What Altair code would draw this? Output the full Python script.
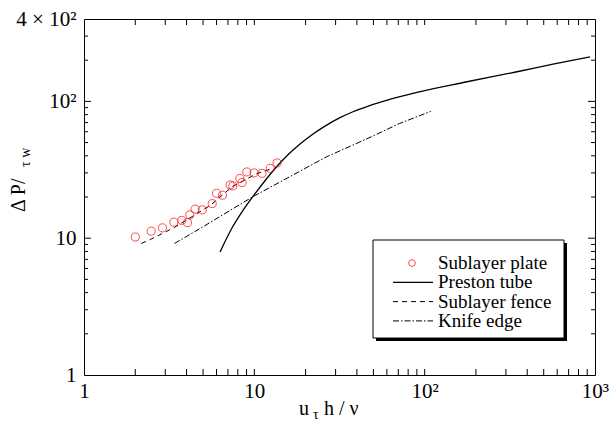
import altair as alt
import pandas as pd

# Sublayer plate measurements
plate_x = [2.0, 2.48, 2.89, 3.37, 3.75, 4.05, 4.18, 4.49, 4.95, 5.66, 6.0,
           6.5, 7.21, 7.48, 8.22, 8.47, 9.03, 9.96, 11.1, 12.4, 13.6]
plate_y = [10.2, 11.25, 11.9, 13.1, 13.5, 13.0, 14.8, 16.3, 16.1, 17.9, 21.3,
           20.6, 24.5, 24.1, 27.3, 25.5, 30.5, 30.0, 29.8, 32.4, 35.5]

# Preston tube calibration
preston_x = [6.29, 7.39, 8.58, 9.82, 11.71, 13.59, 15.55, 18.54, 22.11, 26.0,
             31.84, 37.96, 45.86, 56.93, 71.66, 90.16, 177.3, 348.4, 566.9, 934.8]
preston_y = [7.93, 11.87, 15.97, 20.21, 26.86, 33.54, 40.03, 48.74, 57.77, 65.98,
             76.01, 83.95, 91.62, 99.8, 108.2, 116.5, 139.1, 164.6, 187.1, 211.8]

# Sublayer fence calibration
fence_x = [2.17, 2.46, 3.4, 5.53, 7.38, 10.3, 12.5]
fence_y = [9.15, 9.8, 12.0, 17.4, 23.7, 29.6, 32.0]

# Knife edge calibration
knife_x = [3.4, 4.82, 9.87, 26.5, 48.5, 70.9, 108.6]
knife_y = [9.15, 11.8, 20.2, 39.3, 55.0, 68.8, 84.5]

legend_labels = ["Sublayer plate", "Preston tube", "Sublayer fence", "Knife edge"]

x_major = [1, 10, 100, 1000]
x_label_text = ["1", "10", "10²", "10³"]
y_major = [1, 10, 100, 400]
y_label_text = ["1", "10", "10²", "4 × 10²"]

# tick positions (inward ticks on all four sides)
x_tick_vals = [m * d for d in (1, 10, 100) for m in range(1, 10)][1:]
y_tick_major = [10, 100]
y_tick_minor = [m * d for d in (1, 10) for m in range(2, 10)] + [200, 300]

W, H = 511, 356
FONT = "Liberation Serif, Times New Roman, serif"


def label_expr(vals, texts):
    expr = "''"
    for v, t in reversed(list(zip(vals, texts))):
        expr = f"datum.value == {v} ? '{t}' : ({expr})"
    return expr


xs = alt.Scale(type="log", domain=[1, 1000], nice=False)
ys = alt.Scale(type="log", domain=[1, 400], nice=False)

x_axis = alt.Axis(orient="bottom", values=x_major, labelExpr=label_expr(x_major, x_label_text),
                  ticks=False, domain=False, grid=False, title=None, labelFont=FONT,
                  labelFontSize=21, labelColor="black", labelPadding=5,
                  labelFlush=False, labelOverlap=False)
y_axis = alt.Axis(orient="left", values=y_major, labelExpr=label_expr(y_major, y_label_text),
                  ticks=False, domain=False, grid=False, title=None, labelFont=FONT,
                  labelFontSize=21, labelColor="black", labelPadding=8,
                  labelFlush=False, labelOverlap=False)


def X(field):
    return alt.X(field, scale=xs, axis=x_axis)


def Y(field):
    return alt.Y(field, scale=ys, axis=y_axis)


plate = pd.DataFrame({"x": plate_x, "y": plate_y})
preston = pd.DataFrame({"x": preston_x, "y": preston_y})
fence = pd.DataFrame({"x": fence_x, "y": fence_y})
knife = pd.DataFrame({"x": knife_x, "y": knife_y})

preston_layer = alt.Chart(preston).mark_line(color="black", strokeWidth=1.3,
                                             interpolate="monotone").encode(
    x=X("x:Q"), y=Y("y:Q"))
fence_layer = alt.Chart(fence).mark_line(color="black", strokeWidth=1,
                                         strokeDash=[5, 4]).encode(x=X("x:Q"), y=Y("y:Q"))
knife_layer = alt.Chart(knife).mark_line(color="black", strokeWidth=1,
                                         strokeDash=[6, 2, 1.5, 2]).encode(x=X("x:Q"), y=Y("y:Q"))
plate_layer = alt.Chart(plate).mark_point(shape="circle", filled=False, color="#ff0000",
                                          size=65, strokeWidth=1).encode(x=X("x:Q"), y=Y("y:Q"))

# tick marks placed through the scales
xt = pd.DataFrame({"v": x_tick_vals})
ytM = pd.DataFrame({"v": y_tick_major})
ytm = pd.DataFrame({"v": y_tick_minor})
XT, YTM, YTm = 6, 7, 4
tick_layers = [
    alt.Chart(xt).mark_rule(color="black", strokeWidth=1).encode(
        x=X("v:Q"), y=alt.value(H), y2=alt.value(H - XT)),
    alt.Chart(xt).mark_rule(color="black", strokeWidth=1).encode(
        x=X("v:Q"), y=alt.value(0), y2=alt.value(XT)),
]
for df, ln in ((ytM, YTM), (ytm, YTm)):
    tick_layers.append(alt.Chart(df).mark_rule(color="black", strokeWidth=1).encode(
        y=Y("v:Q"), x=alt.value(0), x2=alt.value(ln)))
    tick_layers.append(alt.Chart(df).mark_rule(color="black", strokeWidth=1).encode(
        y=Y("v:Q"), x=alt.value(W), x2=alt.value(W - ln)))

# legend box with drop shadow
one = pd.DataFrame({"k": [0]})
LX0, LX1, LY0, LY1 = 289, 480, 221, 319
shadow = alt.Chart(one).mark_rect(color="black").encode(
    x=alt.value(LX0 + 3), x2=alt.value(LX1 + 3), y=alt.value(LY0 + 3), y2=alt.value(LY1 + 3))
box = alt.Chart(one).mark_rect(fill="white", stroke="black", strokeWidth=1).encode(
    x=alt.value(LX0), x2=alt.value(LX1), y=alt.value(LY0), y2=alt.value(LY1))

row_y = [244 + i * 19.3 for i in range(len(legend_labels))]
legend_text = [
    alt.Chart(one).mark_text(text=lab, font=FONT, fontSize=19, align="left",
                             baseline="middle", color="black").encode(
        x=alt.value(354), y=alt.value(ry))
    for lab, ry in zip(legend_labels, row_y)
]
legend_sym = alt.Chart(one).mark_point(shape="circle", filled=False, color="#ff0000",
                                       size=45, strokeWidth=1).encode(
    x=alt.value(328), y=alt.value(row_y[0]))
legend_lines = [
    alt.Chart(one).mark_rule(color="black", strokeWidth=sw, **({"strokeDash": d} if d else {})).encode(
        x=alt.value(309), x2=alt.value(349), y=alt.value(ry))
    for ry, d, sw in zip(row_y[1:], [None, [5, 4], [6, 2, 1.5, 2]], [1.3, 1, 1])
]

# axis titles with subscripts
titles = [
    alt.Chart(one).mark_text(text="u", font=FONT, fontSize=20, align="right",
                             baseline="alphabetic", color="black").encode(
        x=alt.value(225), y=alt.value(396)),
    alt.Chart(one).mark_text(text="τ", font=FONT, fontSize=14, align="left",
                             baseline="alphabetic", color="black").encode(
        x=alt.value(229), y=alt.value(400)),
    alt.Chart(one).mark_text(text="h / ν", font=FONT, fontSize=20, align="left",
                             baseline="alphabetic", color="black").encode(
        x=alt.value(240), y=alt.value(396)),
    alt.Chart(one).mark_text(text="Δ P/", font=FONT, fontSize=20, align="left",
                             baseline="middle", angle=270, color="black").encode(
        x=alt.value(-65), y=alt.value(193)),
    alt.Chart(one).mark_text(text="τ w", font=FONT, fontSize=14, align="left",
                             baseline="middle", angle=270, color="black").encode(
        x=alt.value(-58), y=alt.value(148)),
]

chart = alt.layer(
    *tick_layers, preston_layer, fence_layer, knife_layer, plate_layer,
    shadow, box, legend_sym, *legend_lines, *legend_text, *titles,
).properties(
    width=W, height=H,
    autosize=alt.AutoSizeParams(type="none"),
    padding={"left": 84, "top": 19, "right": 19, "bottom": 59},
    background="white",
).configure_view(stroke="black", strokeWidth=1)

chart.save("out.html", embed_options={"renderer": "svg", "actions": False})
